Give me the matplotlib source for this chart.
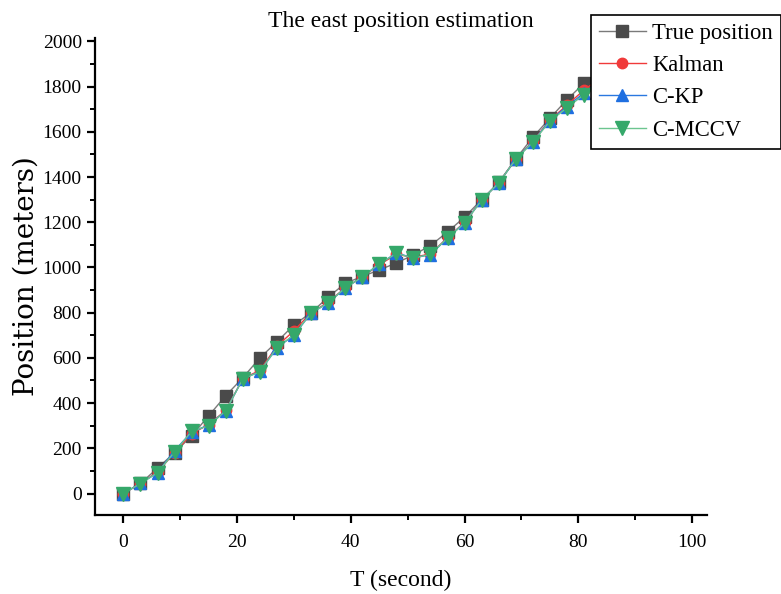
import numpy as np
import matplotlib.pyplot as plt
from matplotlib.ticker import MultipleLocator

plt.rcParams['font.family'] = ['Liberation Serif', 'DejaVu Serif']

# tempo (s)
t = [0, 3, 6, 9, 12, 15, 18, 21, 24, 27, 30, 33, 36, 39, 42, 45, 48, 51, 54,
     57, 60, 63, 66, 69, 72, 75, 78, 81, 84]

true_pos = [0, 45, 112, 181, 255, 344, 433, 512, 600, 671, 746, 800, 868, 930,
            960, 989, 1020, 1055, 1097, 1157, 1223, 1300, 1376, 1480, 1576,
            1660, 1742, 1815, 1870]
kalman = [0, 44, 96, 180, 265, 305, 368, 508, 545, 652, 720, 800, 846, 910,
          958, 1012, 1058, 1045, 1060, 1132, 1200, 1298, 1374, 1479, 1558,
          1652, 1718, 1785, 1840]
ckp = [0, 45, 92, 190, 272, 303, 366, 507, 540, 645, 700, 798, 843, 909,
       958, 1015, 1064, 1042, 1057, 1130, 1198, 1298, 1373, 1479, 1556,
       1650, 1712, 1772, 1830]
cmccv = [0, 44, 92, 184, 275, 300, 366, 507, 539, 645, 702, 798, 843, 909,
         958, 1016, 1062, 1042, 1058, 1130, 1196, 1298, 1373, 1479, 1554,
         1647, 1706, 1765, 1825]

fig, ax = plt.subplots(figsize=(7.81, 5.94), dpi=100)
fig.subplots_adjust(left=0.1216, right=0.905, bottom=0.133, top=0.936)

ax.plot(t, true_pos, color='#7a7a7a', lw=1, marker='s', ms=8.5,
        mfc='#4a4a4a', mec='#4a4a4a', label='True position')
ax.plot(t, kalman, color='#f03a3a', lw=1, marker='o', ms=7.5,
        mfc='#f03a3a', mec='#f03a3a', label='Kalman')
ax.plot(t, ckp, color='#2a78e0', lw=1, marker='^', ms=8.5,
        mfc='#1f6fe0', mec='#1f6fe0', label='C-KP')
ax.plot(t, cmccv, color='#6cc58f', lw=1, marker='v', ms=9.5,
        mfc='#35a86a', mec='#35a86a', label='C-MCCV')

ax.set_xlim(-5, 102.6)
ax.set_ylim(-95, 2015)
ax.xaxis.set_major_locator(MultipleLocator(20))
ax.xaxis.set_minor_locator(MultipleLocator(10))
ax.yaxis.set_major_locator(MultipleLocator(200))
ax.yaxis.set_minor_locator(MultipleLocator(100))

for s in ['top', 'right']:
    ax.spines[s].set_visible(False)
for s in ['left', 'bottom']:
    ax.spines[s].set_linewidth(1.6)
ax.tick_params(which='major', length=6, width=1.6, labelsize=14)
ax.tick_params(axis='x', which='major', pad=8)
ax.tick_params(which='minor', length=3.5, width=1.4)

ax.set_xlabel('T (second)', fontsize=17, labelpad=13)
ax.set_ylabel('Position (meters)', fontsize=20, labelpad=2,
              family=['DejaVu Serif'])
ax.set_title('The east position estimation', fontsize=17, pad=8)

leg = fig.legend(loc='upper left', bbox_to_anchor=(0.757, 0.975),
                 fontsize=16.3, frameon=True, fancybox=False,
                 handlelength=2.05, labelspacing=0.5, borderpad=0.35,
                 handletextpad=0.3, borderaxespad=0)
leg.get_frame().set_edgecolor('black')
leg.get_frame().set_linewidth(1.2)
leg.get_frame().set_alpha(1)

plt.savefig('out.png', dpi=100)
